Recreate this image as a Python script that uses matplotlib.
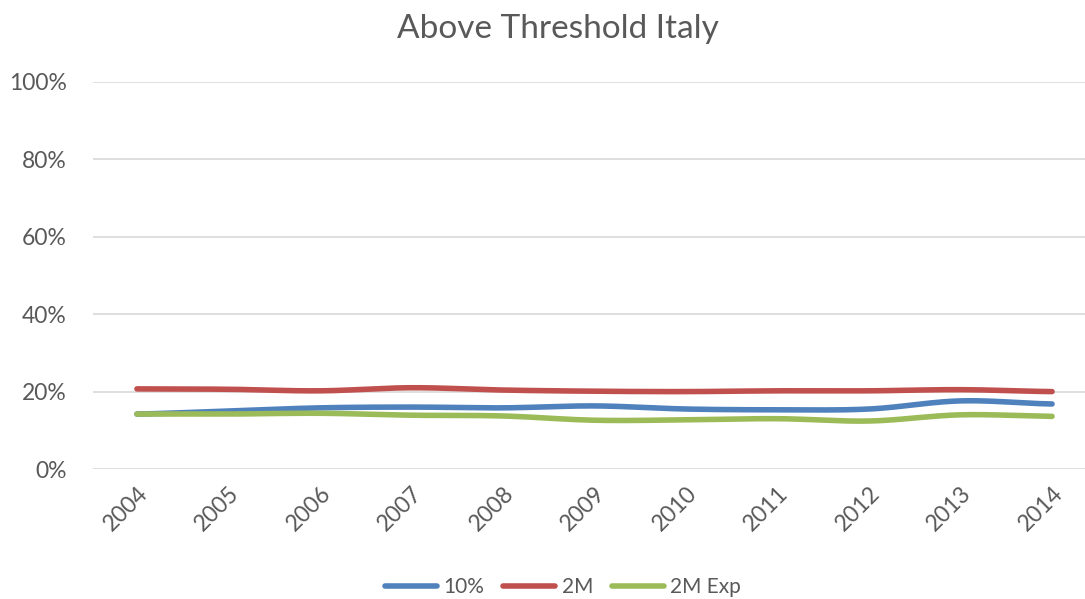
import numpy as np
import matplotlib.pyplot as plt

years = ["2004", "2005", "2006", "2007", "2008", "2009", "2010", "2011", "2012", "2013", "2014"]
pct_10 = [0.142, 0.150, 0.158, 0.160, 0.158, 0.163, 0.155, 0.153, 0.155, 0.176, 0.168]
pct_2m = [0.207, 0.206, 0.202, 0.210, 0.204, 0.201, 0.200, 0.202, 0.202, 0.205, 0.200]
pct_2m_exp = [0.142, 0.142, 0.144, 0.139, 0.137, 0.126, 0.127, 0.130, 0.124, 0.140, 0.136]

plt.rcParams['font.family'] = ['Lato', 'DejaVu Sans']
grey = "#595959"


def smooth(y, n=30):
    # catmull-rom curve through the points, like excel's smoothed line
    y = np.asarray(y, dtype=float)
    p = np.concatenate(([y[0]], y, [y[-1]]))
    xs, ys = [], []
    for i in range(len(y) - 1):
        p0, p1, p2, p3 = p[i], p[i + 1], p[i + 2], p[i + 3]
        t = np.linspace(0, 1, n, endpoint=False)
        c1 = p1 + (p2 - p0) / 6
        c2 = p2 - (p3 - p1) / 6
        ys.append((1 - t) ** 3 * p1 + 3 * (1 - t) ** 2 * t * c1 + 3 * (1 - t) * t ** 2 * c2 + t ** 3 * p2)
        xs.append(i + t)
    xs.append([len(y) - 1])
    ys.append([y[-1]])
    return np.concatenate(xs), np.concatenate(ys)


fig = plt.figure(figsize=(10.85, 5.99), dpi=100)
ax = fig.add_axes([93 / 1085, 1 - 469 / 599, 1 - 93 / 1085, (469 - 82) / 599])

series = [(pct_10, "#4F81BD", "10%"), (pct_2m, "#C0504D", "2M"), (pct_2m_exp, "#9BBB59", "2M Exp")]
for vals, col, name in series:
    sx, sy = smooth(vals)
    ax.plot(sx, sy, color=col, lw=4.0, solid_capstyle="round", label=name)

ax.set_xlim(-0.48, 10.36)
ax.set_ylim(0, 1)
ax.set_yticks(np.arange(0, 1.01, 0.2))
ax.set_yticklabels([f"{int(round(v * 100))}%" for v in np.arange(0, 1.01, 0.2)])
ax.set_xticks(range(len(years)))
ax.set_xticklabels(years, rotation=45, ha="right", rotation_mode="anchor")
ax.tick_params(axis="both", length=0, labelsize=16.5, colors=grey)
ax.tick_params(axis="x", pad=10)
ax.tick_params(axis="y", pad=19)
ax.grid(axis="y", color="#D9D9D9", lw=1.2)
ax.set_axisbelow(True)
for s in ax.spines.values():
    s.set_visible(False)

fig.text(0.514, 0.952, "Above Threshold Italy", ha="center", va="center", fontsize=24, color=grey)
fig.legend(loc="center", bbox_to_anchor=(0.519, 0.02), ncol=3, frameon=False, fontsize=15,
           handlelength=2.5, handletextpad=0.3, columnspacing=0.9, labelcolor=grey)

fig.savefig("out.png", dpi=100)
